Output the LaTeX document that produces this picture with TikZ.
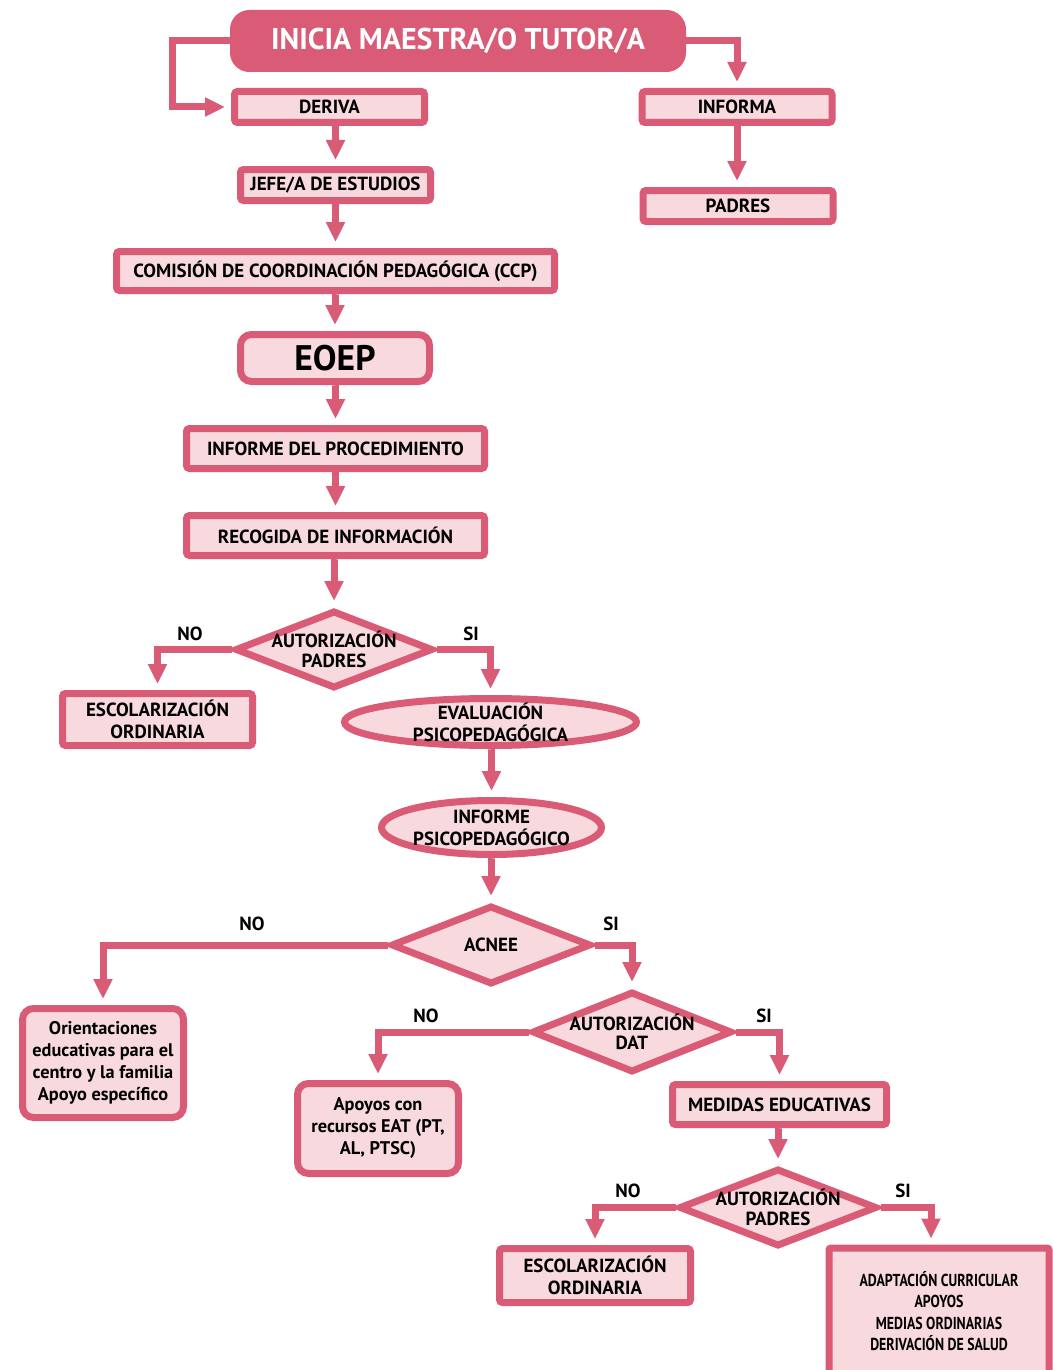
\documentclass[tikz,border=0pt]{standalone}
\usepackage{fontspec}
\setmainfont{PT Sans}
\newfontfamily\estrecha[FakeStretch=0.8]{PT Sans}
\usetikzlibrary{arrows.meta,shapes.geometric}
\definecolor{rosa}{HTML}{D95B75}
\definecolor{rosaclaro}{HTML}{F7D9DE}
\tikzset{
  caja/.style={draw=rosa, fill=rosaclaro, line width=7pt, rounded corners=3pt,
    inner sep=0pt, align=center, font=\bfseries\fontsize{19}{22}\selectfont},
  cajaredonda/.style={caja, rounded corners=11pt},
  rombo/.style={diamond, draw=rosa, fill=rosaclaro, line width=7pt,
    inner xsep=-40pt, inner ysep=-14pt, align=center,
    minimum width=198pt, minimum height=78pt,
    font=\bfseries\fontsize{19}{19.5}\selectfont},
  elipse/.style={ellipse, draw=rosa, fill=rosaclaro, line width=7pt,
    inner xsep=-2pt, inner ysep=-7pt, align=center,
    font=\bfseries\fontsize{19}{22}\selectfont},
  flecha/.style={draw=rosa, line width=7pt, -{Triangle[width=18pt,length=20pt]},
    shorten >=6pt},
  etiq/.style={font=\bfseries\fontsize{19}{20}\selectfont}
}
\begin{document}
\begin{tikzpicture}[x=1pt,y=-1pt]
    \useasboundingbox (0,0) rectangle (1052,1370);
    % inicio
    \node[caja, fill=rosa, rounded corners=16pt, text=white, minimum width=449pt,
      minimum height=55pt, font=\bfseries\fontsize{30}{32}\selectfont]
      (inicia) at (458,41) {INICIA MAESTRA/O TUTOR/A};
    \node[caja, minimum width=190pt, minimum height=31pt] (deriva) at (329.5,107) {DERIVA};
    \node[caja, minimum width=190pt, minimum height=31pt] (informa) at (737,107) {INFORMA};
    \node[caja, minimum width=190pt, minimum height=31pt] (padres) at (738,206) {PADRES};
    \node[caja, minimum width=190pt, minimum height=31pt] (jefe) at (335.5,185) {JEFE/A DE ESTUDIOS};
    \node[caja, minimum width=438pt, minimum height=39pt] (ccp) at (335.5,271)
      {COMISIÓN DE COORDINACIÓN PEDAGÓGICA (CCP)};
    \node[cajaredonda, minimum width=189pt, minimum height=47pt,
      font=\bfseries\fontsize{35.5}{38}\selectfont] (eoep) at (335,358) {EOEP};
    \node[caja, minimum width=298pt, minimum height=40pt] (proced) at (335.5,448.5)
      {INFORME DEL PROCEDIMIENTO};
    \node[caja, minimum width=298pt, minimum height=40pt] (recogida) at (335.5,535.5)
      {RECOGIDA DE INFORMACIÓN};
    % primera autorizacion
    \node[rombo] (autpadres) at (334,649.5) {AUTORIZACIÓN\\PADRES};
    \node[caja, minimum width=190pt, minimum height=52pt] (escolar) at (157.5,719.5)
      {ESCOLARIZACIÓN\\ORDINARIA};
    \node[elipse, minimum width=292pt, minimum height=47pt] (evalua) at (490.5,722)
      {EVALUACIÓN\\PSICOPEDAGÓGICA};
    \node[elipse, minimum width=220pt, minimum height=54pt] (infpsico) at (491.5,827.5)
      {INFORME\\PSICOPEDAGÓGICO};
    % acnee
    \node[rombo, minimum width=200pt, minimum height=79pt] (acnee) at (491,945) {ACNEE};
    \node[cajaredonda, minimum width=161pt, minimum height=109pt,
      font=\bfseries\fontsize{18.3}{22}\selectfont] (orienta) at (103,1063)
      {Orientaciones\\educativas para el\\centro y la familia\\Apoyo específico};
    \node[rombo, minimum width=200pt, minimum height=81pt] (autdat) at (632,1032)
      {AUTORIZACIÓN\\DAT};
    \node[cajaredonda, minimum width=161pt, minimum height=90pt,
      font=\bfseries\fontsize{18.3}{22}\selectfont] (apoyos) at (378,1128.5)
      {Apoyos con\\recursos EAT (PT,\\AL, PTSC)};
    \node[caja, minimum width=214pt, minimum height=40pt] (medidas) at (779.5,1104.5)
      {MEDIDAS EDUCATIVAS};
    % segunda autorizacion
    \node[rombo] (autpadresb) at (778,1207.5) {AUTORIZACIÓN\\PADRES};
    \node[caja, minimum width=191pt, minimum height=54pt] (escolarb) at (595,1275.5)
      {ESCOLARIZACIÓN\\ORDINARIA};
    \node[caja, rounded corners=2pt, minimum width=220pt, minimum height=126pt,
      font=\estrecha\bfseries\fontsize{17.3}{21.5}\selectfont] (adapta) at (939,1311)
      {ADAPTACIÓN CURRICULAR\\APOYOS\\MEDIAS ORDINARIAS\\DERIVACIÓN DE SALUD};
    % etiquetas
    \node[etiq] (noa) at (190,634) {NO};
    \node[etiq] (sia) at (471,634) {SI};
    \node[etiq] (nob) at (252,924) {NO};
    \node[etiq] (sib) at (611,924) {SI};
    \node[etiq] (noc) at (426,1016) {NO};
    \node[etiq] (sic) at (764,1016) {SI};
    \node[etiq] (nod) at (628,1191) {NO};
    \node[etiq] (sid) at (903,1191) {SI};
    % flechas
    \draw[flecha] (inicia.west) -- ++(-58,0) |- (deriva.west);
    \draw[flecha] (inicia.east) -| (informa.north);
    \draw[flecha] (informa.south) -- (informa.south |- padres.north);
    \draw[flecha] (deriva.south -| jefe.north) -- (jefe.north);
    \foreach \a/\b in {jefe/ccp, ccp/eoep, eoep/proced, proced/recogida,
        recogida/autpadres, evalua/infpsico, infpsico/acnee, medidas/autpadresb}
      \draw[flecha] (\a.south) -- (\a.south -| \b.north) -- (\b.north);
    \draw[flecha] (autpadres.west) -| (escolar.north);
    \draw[flecha] (autpadres.east) -| (evalua.north);
    \draw[flecha] (acnee.west) -| (orienta.north);
    \draw[flecha] (acnee.east) -| (autdat.north);
    \draw[flecha] (autdat.west) -| (apoyos.north);
    \draw[flecha] (autdat.east) -| (medidas.north);
    \draw[flecha] (autpadresb.west) -| (escolarb.north);
    \draw[flecha] (autpadresb.east) -| ([xshift=-8pt]adapta.north);
\end{tikzpicture}
\end{document}
